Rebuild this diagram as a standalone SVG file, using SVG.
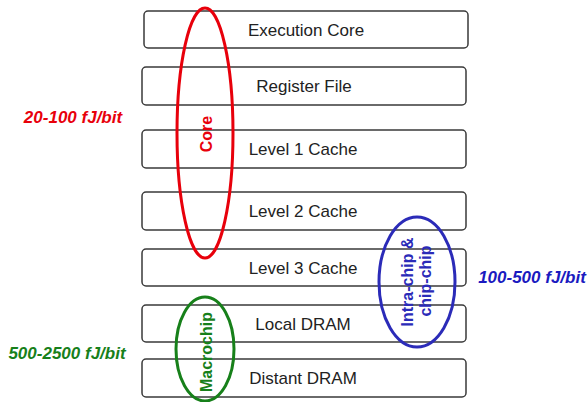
<svg xmlns="http://www.w3.org/2000/svg" width="587" height="402" viewBox="0 0 587 402">
<style>
.box{fill:#fff;stroke:#3a3a3a;stroke-width:1.5}
.lbl{font-family:"Liberation Sans",Arial,sans-serif;font-size:17px;fill:#222;text-anchor:middle}
.ell{fill:none;stroke-width:3}
.vt{font-family:"Liberation Sans",Arial,sans-serif;font-size:16px;font-weight:bold;text-anchor:middle}
.en{font-family:"Liberation Sans",Arial,sans-serif;font-size:17px;font-weight:bold;font-style:italic;text-anchor:middle}
</style>
<rect width="587" height="402" fill="#fff"/>
<g id="exec"><rect class="box" x="144" y="11" width="324" height="37" rx="4"/><text class="lbl" x="306" y="36">Execution Core</text></g>
<g id="regfile"><rect class="box" x="142" y="67" width="324" height="38" rx="4"/><text class="lbl" x="304" y="92">Register File</text></g>
<g id="l1"><rect class="box" x="142" y="130" width="324" height="38" rx="4"/><text class="lbl" x="303" y="155">Level 1 Cache</text></g>
<g id="l2"><rect class="box" x="142" y="192" width="324" height="38" rx="4"/><text class="lbl" x="303" y="217">Level 2 Cache</text></g>
<g id="l3"><rect class="box" x="142" y="249" width="324" height="37" rx="4"/><text class="lbl" x="303" y="274">Level 3 Cache</text></g>
<g id="localdram"><rect class="box" x="142" y="305" width="324" height="37" rx="4"/><text class="lbl" x="303" y="330">Local DRAM</text></g>
<g id="distdram"><rect class="box" x="142" y="359" width="324" height="38" rx="4"/><text class="lbl" x="303" y="384">Distant DRAM</text></g>
<g id="core">
<ellipse class="ell" cx="205" cy="133" rx="28" ry="125" stroke="#e8000b"/>
<text class="vt" fill="#e8000b" transform="translate(212,134) rotate(-90)">Core</text>
<text class="en" fill="#e8000b" x="73" y="123">20-100 fJ/bit</text>
</g>
<g id="intrachip">
<ellipse class="ell" cx="417" cy="282" rx="38" ry="65" stroke="#2b2bb8"/>
<text class="vt" fill="#2b2bb8" transform="translate(413,282) rotate(-90)">Intra-chip &amp;</text>
<text class="vt" fill="#2b2bb8" transform="translate(431,281) rotate(-90)">chip-chip</text>
<text class="en" fill="#1a1ac0" x="532" y="283">100-500 fJ/bit</text>
</g>
<g id="macrochip">
<ellipse class="ell" cx="205" cy="349" rx="29" ry="52" stroke="#17801a"/>
<text class="vt" fill="#17801a" transform="translate(212,352) rotate(-90)">Macrochip</text>
<text class="en" fill="#17801a" x="67" y="359">500-2500 fJ/bit</text>
</g>
<g id="connectors"/>
</svg>
